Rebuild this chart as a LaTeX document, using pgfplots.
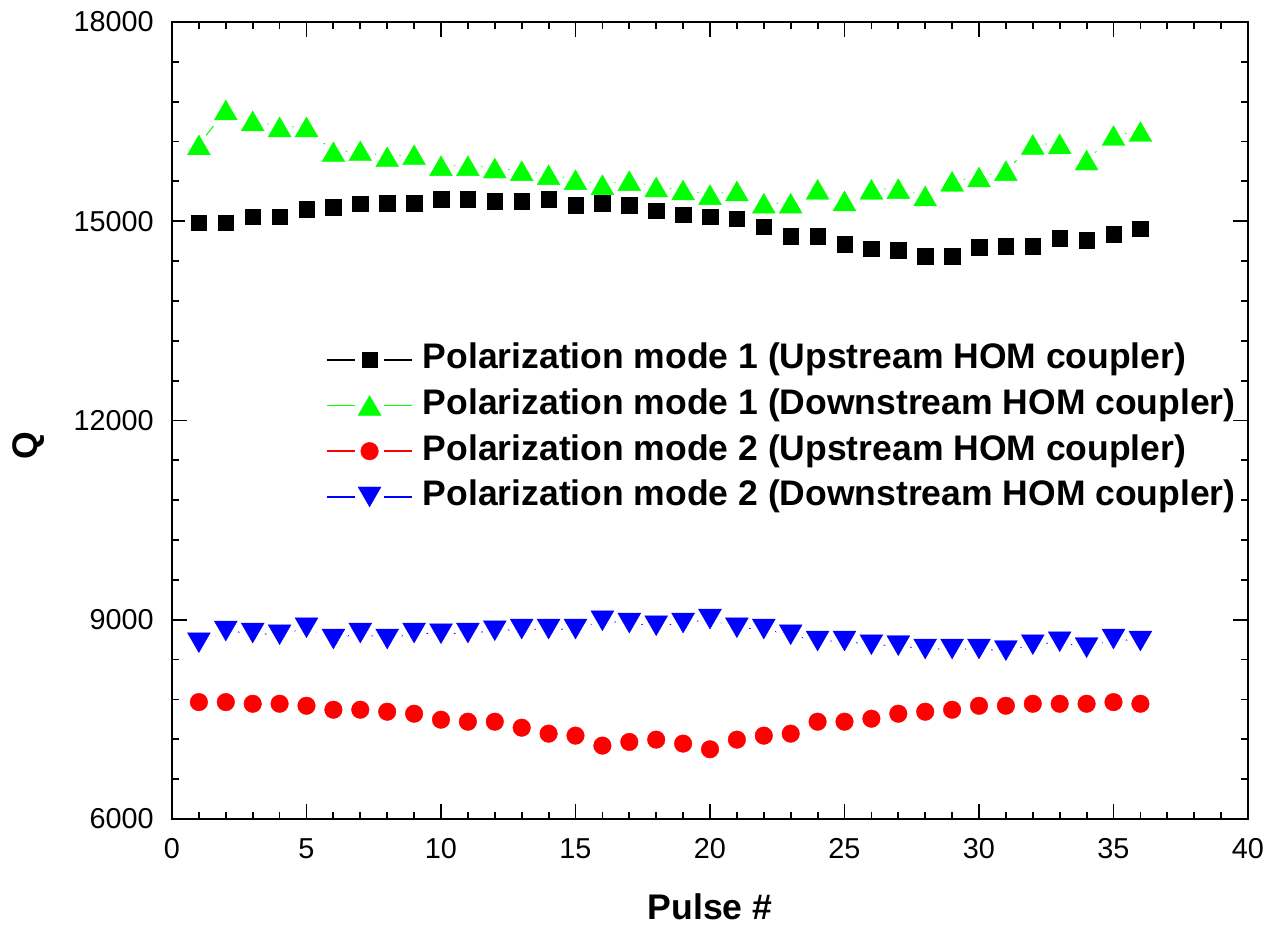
\documentclass[border=0pt]{standalone}
\usepackage{pgfplots}
\pgfplotsset{compat=1.18}
\usepackage{pgfplotstable}
\usepackage{fontspec}
\setmainfont{Liberation Sans}

\pgfplotstableread{
x y
1 14980
2 14980
3 15070
4 15070
5 15185
6 15215
7 15265
8 15275
9 15275
10 15335
11 15335
12 15305
13 15305
14 15335
15 15245
16 15275
17 15245
18 15155
19 15100
20 15070
21 15040
22 14920
23 14775
24 14775
25 14655
26 14590
27 14565
28 14475
29 14475
30 14610
31 14625
32 14625
33 14745
34 14715
35 14805
36 14890
}\blackdata

\pgfplotstableread{
x y
1 16150
2 16675
3 16510
4 16420
5 16420
6 16045
7 16060
8 15970
9 16000
10 15835
11 15835
12 15800
13 15760
14 15700
15 15625
16 15550
17 15610
18 15515
19 15470
20 15400
21 15455
22 15270
23 15270
24 15480
25 15305
26 15480
27 15490
28 15380
29 15600
30 15665
31 15760
32 16155
33 16165
34 15920
35 16290
36 16350
}\greendata

\pgfplotstableread{
x y
1 7760
2 7760
3 7735
4 7735
5 7705
6 7645
7 7645
8 7615
9 7585
10 7495
11 7465
12 7465
13 7375
14 7285
15 7255
16 7105
17 7160
18 7195
19 7135
20 7050
21 7195
22 7255
23 7285
24 7465
25 7465
26 7510
27 7585
28 7615
29 7645
30 7705
31 7705
32 7735
33 7735
34 7735
35 7760
36 7735
}\reddata

\pgfplotstableread{
x y
1 8655
2 8830
3 8800
4 8775
5 8880
6 8710
7 8800
8 8710
9 8800
10 8790
11 8800
12 8835
13 8860
14 8860
15 8860
16 8985
17 8950
18 8910
19 8950
20 9010
21 8880
22 8860
23 8775
24 8680
25 8680
26 8625
27 8610
28 8560
29 8560
30 8560
31 8535
32 8625
33 8670
34 8580
35 8710
36 8680
}\bluedata

\definecolor{ogreen}{RGB}{0,255,0}
\definecolor{ored}{RGB}{255,0,0}
\definecolor{oblue}{RGB}{0,0,255}

\pgfplotsset{
  sqmark/.style={mark=square*, mark size=3.875pt},
  upmark/.style={mark=triangle*, mark size=6.6pt},
  cimark/.style={mark=*, mark size=4.4pt},
  dnmark/.style={mark=triangle*, mark size=6.6pt},
}

\begin{document}
\begin{tikzpicture}
\path[use as bounding box] (-86pt,-53pt) rectangle (545.5pt,409.5pt);
\begin{axis}[
  at={(0pt,0pt)}, anchor=south west,
  scale only axis,
  width=538pt, height=398.5pt,
  xmin=0, xmax=40, ymin=6000, ymax=18000,
  xtick={0,5,...,40},
  minor x tick num=4,
  ytick={6000,9000,12000,15000,18000},
  minor y tick num=4,
  scaled y ticks=false,
  tick align=inside,
  major tick length=7.5pt,
  minor tick length=3.5pt,
  axis line style={line width=1pt},
  every tick/.style={black, line width=0.9pt},
  /pgf/number format/1000 sep={},
  /pgf/number format/assume math mode=true,
  tick label style={font=\fontsize{14.4}{17}\selectfont},
  xticklabel style={inner sep=0pt, anchor=north, yshift=-9.5pt},
  yticklabel style={inner sep=0pt, anchor=east, xshift=-9pt},
  xlabel={Pulse \#},
  ylabel={Q},
  label style={font=\fontsize{17.8}{20}\selectfont\bfseries},
  xlabel style={at={(axis description cs:0.5,-0.1255)}, anchor=base, inner sep=0pt},
  ylabel style={at={(axis description cs:-0.133,0.469)}, anchor=center, inner sep=0pt},
  legend cell align=left,
  legend style={at={(0.143,0.598)}, anchor=north west, draw=none, fill=none,
    inner sep=0pt, row sep=5.85pt, column sep=5pt,
    font=\fontsize{17.75}{20}\selectfont\bfseries,
    nodes={inner sep=0pt, text height=13pt, text depth=4pt}},
  legend image code/.code={
    \draw[mark=none, line width=0.8pt] (0pt,0pt) -- (14pt,0pt);
    \draw[mark=none, line width=0.8pt] (28.5pt,0pt) -- (42.5pt,0pt);
    \draw[only marks] plot coordinates {(21.25pt,0pt)};
  },
]
% legend entries
\addlegendimage{black, sqmark, mark options={solid, fill=black, draw=black, line width=0.2pt}}
\addlegendentry{Polarization mode 1 (Upstream HOM coupler)}
\addlegendimage{ogreen, upmark, mark options={solid, fill=ogreen, draw=ogreen, line width=0.2pt, yshift=-1.65pt}}
\addlegendentry{Polarization mode 1 (Downstream HOM coupler)}
\addlegendimage{ored, cimark, mark options={solid, fill=ored, draw=ored, line width=0.2pt}}
\addlegendentry{Polarization mode 2 (Upstream HOM coupler)}
\addlegendimage{oblue, dnmark, mark options={solid, fill=oblue, draw=oblue, line width=0.2pt, rotate=180, yshift=-1.65pt}}
\addlegendentry{Polarization mode 2 (Downstream HOM coupler)}

% connecting lines
\addplot[black, line width=0.5pt, mark=none, forget plot] table[x=x,y=y] {\blackdata};
\addplot[ogreen, line width=0.5pt, mark=none, forget plot] table[x=x,y=y] {\greendata};
\addplot[ored, line width=0.5pt, mark=none, forget plot] table[x=x,y=y] {\reddata};
\addplot[oblue, line width=0.5pt, mark=none, forget plot] table[x=x,y=y] {\bluedata};

% white gaps around markers
\addplot[only marks, sqmark, mark options={fill=white, draw=white, line width=6pt}, forget plot] table[x=x,y=y] {\blackdata};
\addplot[only marks, upmark, mark options={fill=white, draw=white, line width=6pt, yshift=-1.65pt}, forget plot] table[x=x,y=y] {\greendata};
\addplot[only marks, cimark, mark options={fill=white, draw=white, line width=6pt}, forget plot] table[x=x,y=y] {\reddata};
\addplot[only marks, dnmark, mark options={fill=white, draw=white, line width=6pt, rotate=180, yshift=-1.65pt}, forget plot] table[x=x,y=y] {\bluedata};

% markers
\addplot[only marks, sqmark, mark options={fill=black, draw=black, line width=0.2pt}, forget plot] table[x=x,y=y] {\blackdata};
\addplot[only marks, upmark, mark options={fill=ogreen, draw=ogreen, line width=0.2pt, yshift=-1.65pt}, forget plot] table[x=x,y=y] {\greendata};
\addplot[only marks, cimark, mark options={fill=ored, draw=ored, line width=0.2pt}, forget plot] table[x=x,y=y] {\reddata};
\addplot[only marks, dnmark, mark options={fill=oblue, draw=oblue, line width=0.2pt, rotate=180, yshift=-1.65pt}, forget plot] table[x=x,y=y] {\bluedata};
\end{axis}
\end{tikzpicture}
\end{document}
